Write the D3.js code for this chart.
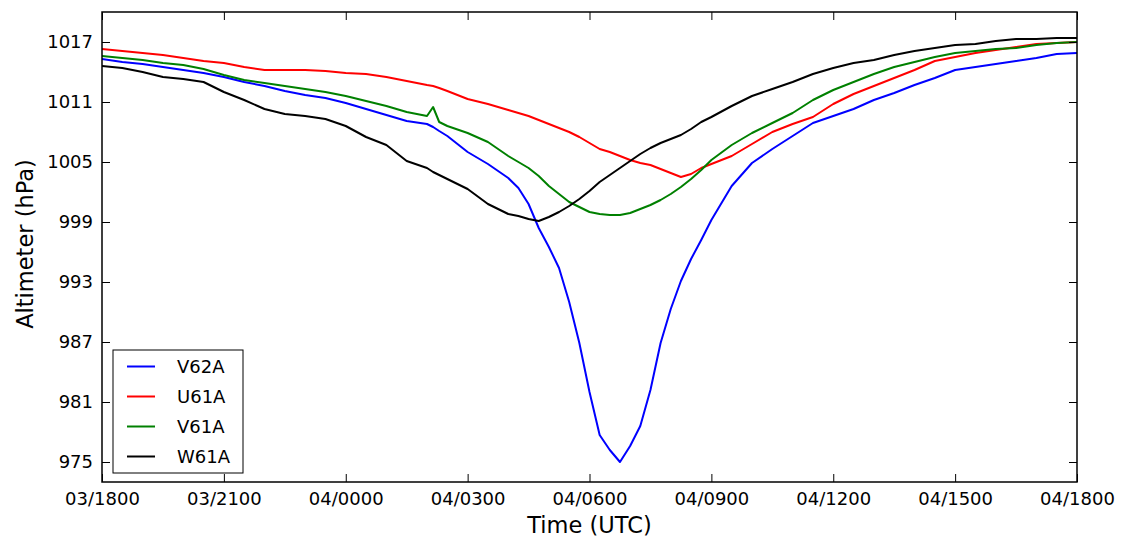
<!DOCTYPE html>
<html>
<head>
<meta charset="utf-8">
<script src="https://cdn.jsdelivr.net/npm/d3@7"></script>
<style>
  html, body { margin: 0; padding: 0; background: #fff; }
  svg { display: block; }
  text { font-family: "DejaVu Sans", sans-serif; fill: #000; }
</style>
</head>
<body>
<svg id="chart" width="1123" height="541"></svg>
<script>
// ---- data (hours since 03/1800 UTC) ----
const hours = [0,0.5,1,1.5,2,2.5,3,3.5,4,4.5,5,5.5,6,6.5,7,7.5,8,8.15,8.3,8.5,9,9.5,
  10,10.25,10.5,10.75,11,11.25,11.5,11.75,12,12.25,12.5,12.75,13,13.25,13.5,13.75,14,14.25,14.5,14.75,15,
  15.5,16,16.5,17,17.5,18,18.5,19,19.5,20,20.5,21,21.5,22,22.5,23,23.5,24];

const v62a = [1015.3,1015.0,1014.8,1014.5,1014.2,1013.9,1013.5,1013.0,1012.6,1012.1,1011.7,1011.4,1010.9,1010.3,1009.7,1009.1,1008.8,1008.5,1008.1,1007.6,1006.0,1004.8,
  1003.4,1002.4,1000.8,998.4,996.5,994.4,991.0,986.9,982.0,977.7,976.2,975.0,976.6,978.6,982.2,986.9,990.3,993.1,995.3,997.2,999.2,
  1002.6,1004.9,1006.3,1007.6,1008.9,1009.6,1010.3,1011.2,1011.9,1012.7,1013.4,1014.2,1014.5,1014.8,1015.1,1015.4,1015.8,1015.9];

const u61a = [1016.3,1016.1,1015.9,1015.7,1015.4,1015.1,1014.9,1014.5,1014.2,1014.2,1014.2,1014.1,1013.9,1013.8,1013.5,1013.1,1012.7,1012.6,1012.4,1012.1,1011.3,1010.8,
  1010.2,1009.9,1009.6,1009.2,1008.8,1008.4,1008.0,1007.5,1006.9,1006.3,1006.0,1005.6,1005.2,1004.9,1004.7,1004.3,1003.9,1003.5,1003.8,1004.4,1004.8,
  1005.6,1006.8,1008.0,1008.8,1009.5,1010.8,1011.8,1012.6,1013.4,1014.2,1015.1,1015.5,1015.9,1016.2,1016.5,1016.8,1016.9,1017.0];

const v61a = [1015.6,1015.4,1015.2,1014.9,1014.7,1014.3,1013.7,1013.2,1012.9,1012.6,1012.3,1012.0,1011.6,1011.1,1010.6,1010.0,1009.6,1010.5,1009.0,1008.6,1007.9,1007.0,
  1005.6,1005.0,1004.4,1003.6,1002.6,1001.8,1001.0,1000.5,1000.0,999.8,999.7,999.7,999.9,1000.3,1000.7,1001.2,1001.8,1002.5,1003.3,1004.2,1005.2,
  1006.7,1007.9,1008.9,1009.9,1011.2,1012.2,1013.0,1013.8,1014.5,1015.0,1015.5,1015.9,1016.1,1016.3,1016.4,1016.7,1016.9,1017.0];

const w61a = [1014.6,1014.4,1014.0,1013.5,1013.3,1013.0,1012.0,1011.2,1010.3,1009.8,1009.6,1009.3,1008.6,1007.5,1006.7,1005.1,1004.4,1004.0,1003.7,1003.3,1002.3,1000.8,
  999.8,999.6,999.3,999.1,999.5,1000.0,1000.6,1001.3,1002.1,1003.0,1003.7,1004.4,1005.1,1005.8,1006.4,1006.9,1007.3,1007.7,1008.3,1009.0,1009.5,
  1010.6,1011.6,1012.3,1013.0,1013.8,1014.4,1014.9,1015.2,1015.7,1016.1,1016.4,1016.7,1016.8,1017.1,1017.3,1017.3,1017.4,1017.4];

const seriesNames = ["V62A", "U61A", "V61A", "W61A"];
const seriesColors = ["#0000ff", "#ff0000", "#008000", "#000000"];
const seriesValues = [v62a, u61a, v61a, w61a];

const xTickHours = [0, 3, 6, 9, 12, 15, 18, 21, 24];
const xTickLabels = ["03/1800","03/2100","04/0000","04/0300","04/0600","04/0900","04/1200","04/1500","04/1800"];
const yTicks = [975, 981, 987, 993, 999, 1005, 1011, 1017];

// ---- layout ----
const L = 102, R = 1077, T = 12, B = 482;
const svg = d3.select("#chart");

const x = d3.scaleLinear().domain([0, 24]).range([L, R]);
const y = d3.scaleLinear().domain([973, 1020]).range([B, T]);

svg.append("defs").append("clipPath").attr("id", "clip")
  .append("rect").attr("x", L).attr("y", T).attr("width", R - L).attr("height", B - T);

// lines
const line = d3.line().x(d => x(d[0])).y(d => y(d[1]));
const plot = svg.append("g").attr("clip-path", "url(#clip)");
seriesValues.forEach((vals, i) => {
  plot.append("path")
    .datum(hours.map((h, j) => [h, vals[j]]))
    .attr("fill", "none")
    .attr("stroke", seriesColors[i])
    .attr("stroke-width", 2)
    .attr("stroke-linejoin", "round")
    .attr("d", line);
});

// axes (inward ticks on all sides)
const fmtX = (d) => xTickLabels[xTickHours.indexOf(d)];
const xb = svg.append("g").attr("transform", `translate(0,${B})`)
  .call(d3.axisBottom(x).tickValues(xTickHours).tickFormat(fmtX).tickSize(-8).tickPadding(10));
const xt = svg.append("g").attr("transform", `translate(0,${T})`)
  .call(d3.axisTop(x).tickValues(xTickHours).tickFormat("").tickSize(-8));
const yl = svg.append("g").attr("transform", `translate(${L},0)`)
  .call(d3.axisLeft(y).tickValues(yTicks).tickFormat(d3.format("d")).tickSize(-8).tickPadding(9));
const yr = svg.append("g").attr("transform", `translate(${R},0)`)
  .call(d3.axisRight(y).tickValues(yTicks).tickFormat("").tickSize(-8));

[xb, xt, yl, yr].forEach(g => {
  g.select(".domain").remove();
  g.selectAll(".tick line").attr("stroke", "#000").attr("stroke-width", 1);
  g.selectAll(".tick text").attr("font-family", "DejaVu Sans").attr("font-size", 18).attr("fill", "#000");
});

// frame
svg.append("rect").attr("x", L).attr("y", T).attr("width", R - L).attr("height", B - T)
  .attr("fill", "none").attr("stroke", "#000").attr("stroke-width", 1.5);

// axis titles
svg.append("text").attr("x", (L + R) / 2).attr("y", 533)
  .attr("text-anchor", "middle").attr("font-size", 22.5).text("Time (UTC)");
svg.append("text").attr("transform", `translate(33,${(T + B) / 2 - 3}) rotate(-90)`)
  .attr("text-anchor", "middle").attr("font-size", 22.5).text("Altimeter (hPa)");

// legend
const lg = svg.append("g");
lg.append("rect").attr("x", 113).attr("y", 350).attr("width", 130).attr("height", 123)
  .attr("fill", "#fff").attr("stroke", "#000").attr("stroke-width", 1);
seriesNames.forEach((n, i) => {
  const cy = 366.5 + i * 30;
  lg.append("line").attr("x1", 127).attr("x2", 155).attr("y1", cy).attr("y2", cy)
    .attr("stroke", seriesColors[i]).attr("stroke-width", 2);
  lg.append("text").attr("x", 177).attr("y", cy).attr("dy", "0.36em")
    .attr("font-size", 18).text(n);
});
</script>
</body>
</html>
